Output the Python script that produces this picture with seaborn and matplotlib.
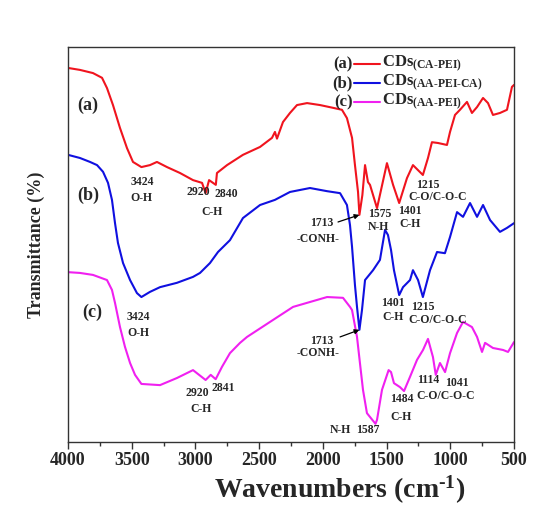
import pandas as pd
import seaborn as sns
import matplotlib.pyplot as plt

# FTIR spectra of the three carbon-dot samples (stacked, arbitrary offset)
samples = ["CDs(CA-PEI)", "CDs(AA-PEI-CA)", "CDs(AA-PEI)"]
sample_tags = ["(a)", "(b)", "(c)"]
sample_subs = ["(CA-PEI)", "(AA-PEI-CA)", "(AA-PEI)"]
colors = ["#f0141e", "#1010e0", "#f020f0"]

wn_a = [4000, 3906, 3804, 3733, 3694, 3647, 3592, 3537, 3490, 3424,
        3357, 3302, 3223, 3121, 3019, 2948, 2920, 2893, 2840, 2831,
        2752, 2627, 2493, 2399, 2376, 2360, 2313, 2258, 2203, 2124,
        2022, 1920, 1850, 1811, 1771, 1748, 1724, 1713, 1690, 1669,
        1646, 1630, 1575, 1497, 1449, 1401, 1340, 1293, 1215, 1175,
        1144, 1097, 1026, 1002, 963, 924, 869, 830, 790, 743,
        704, 665, 610, 555, 516, 500]
t_a = [94.7, 94.2, 93.4, 92.2, 89.6, 85.3, 79.5, 74.4, 70.9, 69.6,
       70.1, 70.9, 69.6, 68.1, 66.3, 65.6, 63.0, 66.3, 65.1, 68.1,
       70.1, 72.7, 74.7, 77.0, 78.5, 76.8, 81.0, 83.3, 85.3, 85.8,
       85.3, 84.6, 84.1, 82.0, 77.0, 70.1, 63.3, 57.5, 62.5, 70.1,
       65.8, 65.1, 59.2, 70.6, 65.1, 60.5, 66.8, 70.1, 67.6, 71.9,
       75.9, 75.7, 75.2, 78.5, 82.8, 84.1, 86.1, 83.3, 84.8, 87.1,
       85.8, 82.8, 83.3, 84.1, 89.9, 90.4]

wn_b = [4000, 3906, 3827, 3772, 3725, 3686, 3655, 3631, 3608, 3568,
        3513, 3459, 3424, 3357, 3278, 3145, 3019, 2964, 2886, 2823,
        2729, 2627, 2493, 2376, 2258, 2101, 1967, 1865, 1811, 1787,
        1771, 1748, 1732, 1713, 1693, 1669, 1606, 1552, 1512, 1489,
        1465, 1442, 1401, 1371, 1316, 1293, 1253, 1215, 1159, 1104,
        1042, 1002, 947, 900, 845, 790, 743, 688, 610, 555, 500]
t_b = [72.7, 71.9, 70.9, 70.1, 68.4, 65.6, 61.3, 55.4, 50.4, 45.3,
       41.0, 37.7, 36.7, 38.0, 39.2, 40.3, 41.8, 42.8, 45.3, 48.1,
       51.1, 56.7, 60.0, 61.3, 63.3, 64.3, 63.5, 63.0, 60.0, 54.9,
       49.4, 39.7, 34.2, 28.4, 33.4, 41.0, 43.5, 46.1, 53.7, 52.4,
       48.6, 43.5, 37.2, 39.2, 41.0, 43.5, 41.0, 36.7, 43.5, 48.1,
       47.8, 51.9, 58.2, 57.0, 60.5, 57.0, 60.0, 56.2, 53.2, 54.2, 55.4]

wn_c = [4000, 3906, 3804, 3694, 3655, 3631, 3592, 3553, 3513, 3474,
        3424, 3278, 3145, 3019, 2920, 2880, 2841, 2792, 2729, 2650,
        2595, 2391, 2234, 1967, 1842, 1787, 1771, 1732, 1709, 1685,
        1654, 1587, 1575, 1536, 1484, 1465, 1442, 1395, 1363, 1316,
        1261, 1214, 1175, 1136, 1114, 1081, 1041, 1002, 947, 900,
        830, 790, 751, 727, 665, 586, 547, 500]
t_c = [43.0, 42.8, 42.3, 41.0, 38.5, 35.2, 29.1, 24.1, 20.0, 17.0,
       14.7, 14.4, 16.2, 18.2, 15.7, 17.0, 15.9, 19.0, 22.5, 25.1,
       26.6, 30.9, 34.2, 36.7, 36.5, 34.2, 33.4, 26.6, 20.0, 13.2,
       7.3, 4.6, 5.6, 13.2, 18.2, 17.7, 14.9, 13.9, 12.9, 16.5,
       20.8, 23.3, 26.1, 21.5, 17.0, 20.0, 17.7, 22.5, 27.6, 30.4,
       29.1, 26.6, 22.8, 25.1, 23.8, 23.3, 22.8, 25.3]

# Band assignments: (text, wavenumber, transmittance)
band_labels = [
    ("3424", 3419, 65.8), ("O-H", 3427, 61.8),
    ("2920", 2980, 63.3), ("2840", 2760, 62.8), ("C-H", 2870, 58.2),
    ("1575", 1551, 57.7), ("N-H", 1567, 54.4),
    ("1401", 1316, 58.5), ("C-H", 1316, 55.2),
    ("1215", 1174, 65.1), ("C-O/C-O-C", 1096, 62.0),
    ("1401", 1449, 35.2), ("C-H", 1449, 31.6),
    ("1215", 1214, 34.2), ("C-O/C-O-C", 1096, 30.9),
    ("3424", 3451, 31.6), ("O-H", 3451, 27.6),
    ("2920", 2988, 12.4), ("2841", 2784, 13.7), ("C-H", 2956, 8.4),
    ("N-H", 1866, 3.0), ("1587", 1646, 3.0),
    ("1484", 1379, 10.9), ("C-H", 1387, 6.3),
    ("1114", 1174, 15.7), ("1041", 947, 14.9), ("C-O/C-O-C", 1034, 11.6),
]
# Amide band call-outs: (number, group, text position, arrow tail, arrow tip)
amide_wn = 1713
amide_calls = [
    ("1713", "-CONH-", (2006, 55.4), (2038, 51.4), (1881, 55.7), (amide_wn, 57.5)),
    ("1713", "-CONH-", (2006, 25.6), (2038, 22.5), (1865, 26.6), (amide_wn, 28.4)),
]
tag_pos = [(3843, 85.3), (3843, 62.5), (3812, 32.9)]

sns.set_theme(style="ticks")
plt.rcParams["font.family"] = ["Liberation Serif", "DejaVu Serif"]
plt.rcParams["font.weight"] = "bold"
plt.rcParams["mathtext.fontset"] = "custom"
plt.rcParams["mathtext.rm"] = "Liberation Serif:bold"
plt.rcParams["mathtext.bf"] = "Liberation Serif:bold"
plt.rcParams["mathtext.it"] = "Liberation Serif:bold"

frames = []
for name, wn, t in zip(samples, [wn_a, wn_b, wn_c], [t_a, t_b, t_c]):
    frames.append(pd.DataFrame({"wavenumber": wn, "T": t, "sample": name}))
df = pd.concat(frames, ignore_index=True)

fig = plt.figure(figsize=(5.49, 5.12), dpi=100)
ax = fig.add_axes([68 / 549, 1 - 442 / 512, 446 / 549, 395 / 512])

sns.lineplot(data=df, x="wavenumber", y="T", hue="sample", hue_order=samples,
             palette=colors, estimator=None, sort=False, linewidth=1.5,
             legend=False, ax=ax)

ax.set_xlim(4000, 500)
ax.set_ylim(0, 100)
ax.set_xticks(list(range(4000, 499, -500)))
ax.set_xticks(list(range(3750, 500, -500)), minor=True)
ax.set_yticks([])
ax.tick_params(axis="x", which="major", direction="out", length=5, width=1,
               labelsize=13, pad=2, color="#333333")
ax.tick_params(axis="x", which="minor", direction="out", length=3, width=1,
               color="#333333")
for lbl in ax.get_xticklabels():
    lbl.set_fontweight("bold")
for sp in ax.spines.values():
    sp.set_linewidth(1.0)
    sp.set_color("#333333")

ax.set_xlabel(r"Wavenumbers (cm$^{\text{-1}}$)", fontsize=20, fontweight="bold")
ax.xaxis.set_label_coords((340 - 68) / 446, (442 - 474) / 395)
ax.set_ylabel("Transmittance (%)", fontsize=13, fontweight="bold")
ax.yaxis.set_label_coords((45 - 68) / 446, 0.5)

# Sample tags next to each trace
for tag, (x, y) in zip(sample_tags, tag_pos):
    ax.text(x, y, tag, fontsize=13, fontweight="bold", ha="center", va="center")

# Band assignments
for txt, x, y in band_labels:
    ax.text(x, y, txt, fontsize=8.5, fontweight="bold", ha="center", va="center")

for num, grp, num_xy, grp_xy, tail, tip in amide_calls:
    ax.text(*num_xy, num, fontsize=8.5, fontweight="bold", ha="center", va="center")
    ax.text(*grp_xy, grp, fontsize=8.5, fontweight="bold", ha="center", va="center")
    ax.annotate("", xy=tip, xytext=tail,
                arrowprops=dict(arrowstyle="-|>", color="black", lw=0.9,
                                mutation_scale=7, shrinkA=0, shrinkB=0))

# Key in the upper right corner
rows_y = [0.957, 0.909, 0.861]
for tag, sub, col, y in zip(sample_tags, sample_subs, colors, rows_y):
    ax.text(0.639, y, tag, transform=ax.transAxes, fontsize=12,
            fontweight="bold", ha="right", va="center")
    ax.plot([0.641, 0.700], [y, y], transform=ax.transAxes, color=col, lw=1.5)
    ax.text(0.704, y, "CDs$_{\\text{" + sub + "}}$", transform=ax.transAxes,
            fontsize=12, fontweight="bold", ha="left", va="center")

fig.savefig("out.png", dpi=100, facecolor="white")
